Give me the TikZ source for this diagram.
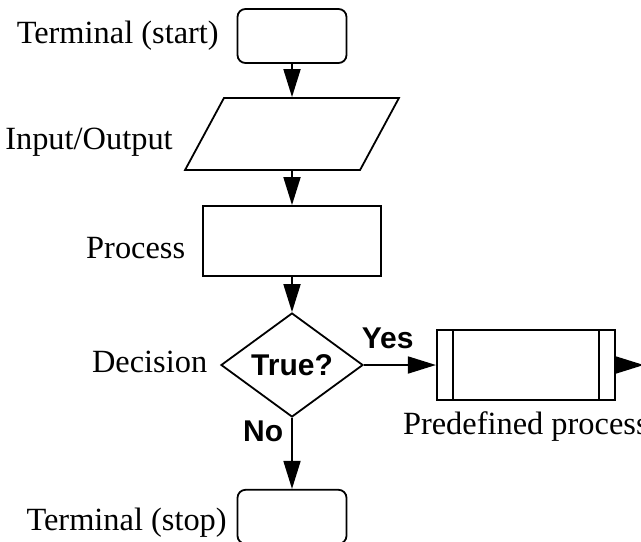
\documentclass[tikz,border=0pt]{standalone}
\usepackage{fontspec}
\setmainfont{Liberation Serif}
\newfontfamily\labelsans{Liberation Sans}
\usetikzlibrary{shapes.geometric, arrows.meta, positioning}

\begin{document}
\begin{tikzpicture}[
        x=0.5pt, y=-0.5pt,
        line width=0.9pt,
        termbox/.style={draw, rounded corners=4pt, minimum width=54.5pt, minimum height=27pt, inner sep=0pt},
        iobox/.style={draw, xslant=0.54, minimum width=87.5pt, minimum height=36pt, inner sep=0pt},
        procbox/.style={draw, minimum width=89pt, minimum height=35pt, inner sep=0pt},
        decbox/.style={draw, diamond, minimum width=71pt, minimum height=52pt, inner sep=0pt, font=\labelsans\bfseries\fontsize{15}{18}\selectfont},
        sidelabel/.style={inner sep=0pt, font=\fontsize{16.2}{19}\selectfont},
        answer/.style={inner sep=0pt, font=\labelsans\bfseries\fontsize{15}{18}\selectfont},
        arrow/.style={-{Triangle[length=14pt, width=8.5pt]}}
    ]
        \useasboundingbox (0,0) rectangle (641,541);

        \node[termbox] (start) at (292,36) {};
        \node[iobox] (inout) at (292,134) {};
        \node[procbox] (proc) at (292,241) {};
        \node[decbox] (test) at (292,365) {True?};
        \node[procbox, right=36pt of test] (predef) {};
        \node[termbox, below=35.5pt of test] (stop) {};
        \coordinate[right=14pt of predef] (out);

        % side bars of the predefined process
        \draw ([xshift=8.5pt]predef.north west) -- ([xshift=8.5pt]predef.south west);
        \draw ([xshift=-8.5pt]predef.north east) -- ([xshift=-8.5pt]predef.south east);

        \node[sidelabel, left=15pt of inout, yshift=-4pt] (inoutlbl) {Input/Output};
        \node[sidelabel, left=8.5pt of start] (startlbl) {Terminal (start)};
        \node[sidelabel, left=8pt of proc, yshift=-3.5pt] (proclbl) {Process};
        \node[sidelabel, left=6pt of test, yshift=1.5pt] (testlbl) {Decision};
        \node[sidelabel, left=4.5pt of stop, yshift=-3pt] (stoplbl) {Terminal (stop)};
        \node[sidelabel, below=5pt of predef] (predeflbl) {Predefined process};

        \draw[arrow] (start) -- (inout);
        \draw[arrow] (inout) -- (proc);
        \draw[arrow] (proc) -- (test);
        \draw[arrow] (test) -- node[answer, pos=0.33, above=7.5pt] {Yes} (predef);
        \draw[arrow] (test) -- node[answer, pos=0.19, left=4pt] {No} (stop);
        \draw[arrow] (predef) -- (out);
    \end{tikzpicture}
\end{document}
